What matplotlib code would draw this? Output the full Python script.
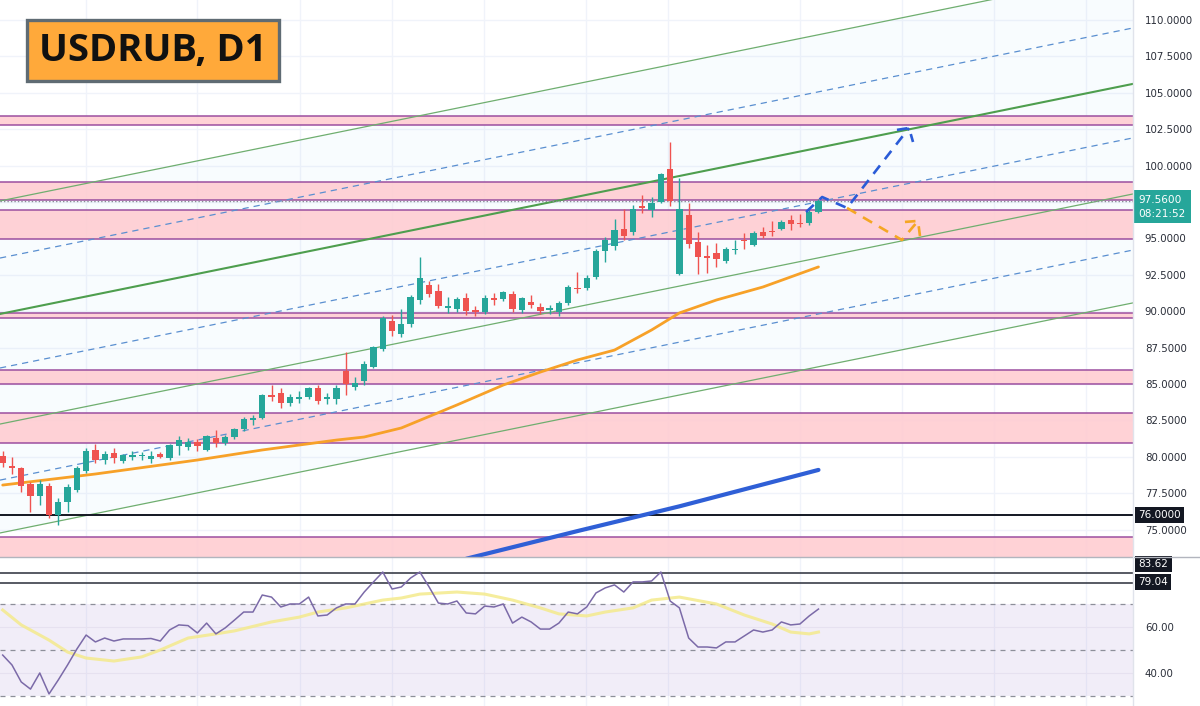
import matplotlib.pyplot as plt
from matplotlib.patches import Rectangle
from matplotlib.lines import Line2D

# daily candles
opens = [80.05, 79.4, 79.2, 78.1, 77.3, 78.0, 76.0, 76.9, 77.7, 79.0,
         80.5, 79.75, 80.25, 79.7, 80.0, 80.05, 79.85, 80.2, 79.9, 80.75,
         80.7, 81.0, 80.5, 81.3, 80.95, 81.35, 81.9, 82.5, 82.65, 84.25,
         84.4, 83.7, 84.0, 84.1, 84.7, 84.0, 84.0, 85.9, 84.8, 85.2,
         86.2, 87.4, 89.35, 88.45, 89.1, 90.8, 91.8, 91.4, 90.25, 90.15,
         90.9, 90.1, 89.95, 90.9, 90.85, 91.2, 90.1, 90.6, 90.3, 90.1,
         89.95, 90.55, 91.6, 91.6, 92.35, 94.1, 94.5, 95.65, 95.45, 97.2,
         96.95, 97.5, 99.75, 92.55, 96.6, 94.75, 93.8, 94.0, 93.45, 94.2,
         94.9, 94.55, 95.45, 95.5, 95.65, 96.25, 96.05, 96.05, 96.8]
highs = [80.4, 80.0, 79.3, 78.3, 78.4, 78.2, 77.2, 78.1, 79.4, 80.6,
         80.9, 80.4, 80.6, 80.2, 80.4, 80.3, 80.4, 80.3, 80.9, 81.4,
         81.3, 81.2, 81.5, 81.85, 81.5, 82.0, 82.75, 82.9, 84.3, 84.9,
         84.7, 84.3, 84.5, 84.8, 84.9, 84.4, 84.9, 87.2, 85.5, 86.6,
         87.6, 89.7, 89.75, 90.15, 91.1, 93.7, 92.1, 91.9, 91.0, 91.0,
         91.25, 90.35, 91.1, 91.25, 91.4, 91.4, 91.0, 91.1, 90.55, 90.4,
         90.7, 91.8, 92.7, 92.5, 94.3, 95.1, 96.3, 97.0, 97.3, 98.0,
         97.85, 99.5, 101.6, 99.15, 97.45, 95.45, 94.55, 94.7, 94.4, 94.9,
         95.35, 95.5, 95.8, 96.2, 96.25, 96.6, 96.7, 96.95, 97.7]
lows = [79.3, 78.8, 77.6, 76.2, 76.7, 75.8, 75.3, 76.2, 77.6, 78.9,
        79.6, 79.5, 79.6, 79.6, 79.8, 79.8, 79.6, 79.9, 79.8, 80.1,
        80.5, 80.4, 80.4, 80.7, 80.8, 81.2, 81.8, 82.2, 82.6, 83.8,
        83.35, 83.5, 83.7, 84.0, 83.6, 83.6, 83.6, 84.25, 84.6, 84.9,
        86.1, 87.3, 88.3, 88.2, 88.9, 90.5, 91.0, 90.25, 89.9, 89.95,
        89.75, 89.7, 89.8, 90.4, 90.7, 89.95, 89.9, 90.2, 89.8, 89.8,
        89.7, 90.4, 91.25, 91.45, 92.2, 93.4, 94.2, 94.9, 95.2, 96.75,
        96.45, 97.4, 97.2, 92.5, 94.35, 92.55, 92.6, 93.05, 93.3, 93.9,
        94.25, 94.5, 95.0, 95.15, 95.55, 95.6, 95.8, 95.95, 96.75]
closes = [79.55, 79.2, 78.0, 77.3, 78.1, 76.0, 76.9, 77.9, 79.2, 80.4,
          79.8, 80.2, 79.9, 80.1, 80.1, 80.1, 80.05, 80.0, 80.8, 81.15,
          81.0, 80.75, 81.4, 80.95, 81.35, 81.9, 82.6, 82.65, 84.25, 84.1,
          83.7, 84.1, 84.1, 84.7, 83.8, 84.1, 84.7, 85.0, 85.1, 86.4,
          87.55, 89.55, 88.65, 89.1, 91.0, 92.3, 91.2, 90.35, 90.35, 90.85,
          90.0, 89.95, 90.9, 90.8, 91.3, 90.15, 90.9, 90.4, 90.0, 90.2,
          90.55, 91.65, 91.5, 92.3, 94.1, 94.9, 95.6, 95.15, 97.0, 97.1,
          97.4, 99.4, 97.55, 97.0, 94.6, 93.7, 93.65, 93.6, 94.25, 94.3,
          94.8, 95.35, 95.15, 95.45, 96.1, 96.0, 96.0, 96.8, 97.56]

# 50-day moving average (orange) and slow average (blue)
ma_idx = [0, 10, 21, 28, 36, 39, 43, 49, 54, 58, 62, 66, 70, 73, 77, 82, 88]
ma_val = [78.06, 78.82, 79.78, 80.47, 81.15, 81.36, 81.98, 83.56, 84.93,
          85.82, 86.65, 87.33, 88.71, 89.88, 90.77, 91.66, 93.04]
slow_idx = [50, 62, 73, 88]
slow_val = [73.0, 74.9, 76.6, 79.1]

# RSI and its moving average
rsi = [47.8, 43.5, 36.1, 33.0, 40.0, 30.9, 37.0, 43.5, 50.4, 56.5,
       53.5, 55.2, 53.9, 54.8, 54.8, 54.8, 55.0, 53.9, 58.7, 60.9,
       60.6, 57.4, 61.7, 57.0, 59.6, 63.0, 66.5, 66.5, 73.9, 73.0,
       68.7, 70.0, 70.0, 73.0, 64.8, 65.2, 68.3, 70.0, 70.0, 75.2,
       79.6, 83.9, 76.5, 77.4, 81.3, 83.9, 77.4, 70.4, 70.0, 71.3,
       66.1, 65.7, 69.1, 68.7, 70.0, 61.7, 64.3, 62.2, 59.1, 59.1,
       61.7, 66.5, 65.7, 68.7, 74.8, 77.0, 78.3, 75.2, 79.6, 79.6,
       80.0, 83.9, 71.3, 68.3, 55.2, 51.3, 51.3, 50.9, 53.5, 53.5,
       56.1, 58.7, 57.8, 58.7, 62.2, 60.9, 61.3, 64.8, 67.8]
rsi_ma_idx = [0, 2, 5, 7, 9, 12, 15, 17, 20, 23, 25, 29, 32, 34, 37, 41, 43,
              45, 49, 52, 55, 58, 60, 63, 65, 68, 70, 73, 77, 80, 83, 85, 87, 88]
rsi_ma = [67.4, 60.9, 54.3, 49.1, 46.5, 45.2, 47.0, 50.0, 55.2, 57.0, 58.3,
          62.2, 64.3, 66.5, 68.3, 71.7, 72.6, 74.3, 75.2, 74.3, 71.7, 68.3,
          65.7, 64.8, 66.5, 68.3, 71.7, 73.0, 70.0, 65.2, 61.3, 57.8, 57.0, 57.8]

# horizontal zones and levels
zones = [(102.8, 103.4), (97.66, 98.9), (94.94, 96.95), (89.55, 89.9),
         (84.98, 85.96), (80.97, 82.99), (72.0, 74.5)]
support = 76.0
last_price = 97.56
rsi_marks = [83.62, 79.04]

# parallel channel: prices at left and right edges
chan_x = [-0.29, 121.93]
green_left = [97.57, 89.81, 82.25, 74.77]
green_right = [113.37, 105.61, 98.05, 90.57]
green_lw = [0.9, 1.5, 0.9, 0.9]
dash_left = [93.65, 86.1, 78.4]
dash_right = [109.45, 101.9, 94.2]

# forecast arrows
up_path = [(86.66, 96.81), (88.4, 97.84), (91.08, 97.09), (97.77, 102.58)]
up_head = [(96.47, 102.45), (97.77, 102.58), (98.2, 101.62)]
dn_path = [(91.08, 97.09), (97.0, 94.89), (98.74, 96.2)]
dn_head = [(97.33, 96.13), (98.74, 96.2), (98.95, 95.16)]

price_ticks = [110, 107.5, 105, 102.5, 100, 95, 92.5, 90, 87.5, 85, 82.5, 80, 77.5, 75]
grid_x = [9.0, 21.0, 32.1, 42.0, 51.9, 62.9, 71.8, 86.0, 97.0, 106.9, 116.9]

UP, DOWN = '#26a69a', '#ef5350'
XLIM = (-0.29, 121.93)

fig = plt.figure(figsize=(12, 7.06), dpi=100)
ax = fig.add_axes([0, 149 / 706, 1133 / 1200, 557 / 706])
rx = fig.add_axes([0, 0, 1133 / 1200, 149 / 706])

for a in (ax, rx):
    a.set_xlim(*XLIM)
    for s in a.spines.values():
        s.set_visible(False)
    a.set_xticks([])
    for g in grid_x:
        a.axvline(g, color='#f0f3fa', lw=1, zorder=0)

ax.set_ylim(73.12, 111.37)
for t in [75 + 2.5 * k for k in range(15)]:
    ax.axhline(t, color='#f0f3fa', lw=1, zorder=0)

# channel
ax.fill([chan_x[0], chan_x[1], chan_x[1], chan_x[0]],
        [green_left[0], green_right[0], green_right[-1], green_left[-1]],
        color='#2196f3', alpha=0.028, lw=0, zorder=0.5)
for l, r, w in zip(green_left, green_right, green_lw):
    ax.plot(chan_x, [l, r], color='#4e9e4e' if w > 1 else '#6fae6f', lw=w, zorder=2)
for l, r in zip(dash_left, dash_right):
    ax.plot(chan_x, [l, r], color='#5a8fd0', lw=0.9, ls=(0, (5, 4)), zorder=2)

# zones
for lo, hi in zones:
    ax.axhspan(lo, hi, color='#ffcdd2', alpha=0.9, lw=0, zorder=1)
    ax.axhline(lo, color='#9c4fa0', lw=1.1, zorder=1.5)
    ax.axhline(hi, color='#9c4fa0', lw=1.1, zorder=1.5)

ax.axhline(support, color='#131722', lw=1.4, zorder=2)
ax.axhline(last_price, color='#8a8d96', lw=1, ls=(0, (1, 1.5)), zorder=2)

# averages
ax.plot(ma_idx, ma_val, color='#f7a128', lw=2, zorder=3, solid_capstyle='round')
ax.plot(slow_idx, slow_val, color='#2f5fd6', lw=3, zorder=3, solid_capstyle='round')

# candles
idx = list(range(len(opens)))
colors = [UP if c >= o else DOWN for o, c in zip(opens, closes)]
ax.vlines(idx, lows, highs, colors=colors, lw=1, zorder=4)
bottoms = [min(o, c) for o, c in zip(opens, closes)]
heights = [max(abs(c - o), 0.06) for o, c in zip(opens, closes)]
ax.bar(idx, heights, bottom=bottoms, width=0.68, color=colors, lw=0, zorder=5)

# forecast arrows
dash = (0, (4, 3))
ax.plot(*zip(*up_path), color='#2a5bd7', lw=1.9, ls=dash, zorder=6)
ax.plot(*zip(*up_head), color='#2a5bd7', lw=1.9, ls=dash, zorder=6)
ax.plot(*zip(*dn_path), color='#f5a623', lw=1.9, ls=dash, zorder=6)
ax.plot(*zip(*dn_head), color='#f5a623', lw=1.9, ls=dash, zorder=6)

# price axis labels
ax.yaxis.tick_right()
ax.set_yticks(price_ticks)
ax.set_yticklabels([f'{t:.4f}' for t in price_ticks])
ax.tick_params(axis='y', length=0, pad=8.5, labelsize=7.4, labelcolor='#2a2e39')

box = dict(boxstyle='square,pad=0.3', ec='none')
ax.annotate('76.0000', xy=(1, support), xycoords=('axes fraction', 'data'),
            xytext=(4, 0), textcoords='offset points', ha='left', va='center',
            fontsize=7.5, color='white', bbox=dict(box, fc='#131722'),
            annotation_clip=False, zorder=10)
ax.annotate('97.5600\n08:21:52', xy=(1, last_price - 0.4), xycoords=('axes fraction', 'data'),
            xytext=(4, 0), textcoords='offset points', ha='left', va='center',
            fontsize=7.6, color='white', linespacing=1.45,
            bbox=dict(boxstyle='square,pad=0.45', fc='#26a69a', ec='none'),
            annotation_clip=False, zorder=10)

# RSI pane
rx.set_ylim(25.65, 90.43)
rx.axhspan(30, 70, color='#7e57c2', alpha=0.1, lw=0, zorder=0)
for g in (40, 60):
    rx.axhline(g, color='#e6e1f0', lw=0.8, zorder=0.5)
for lv in (70, 50, 30):
    rx.axhline(lv, color='#8d8f99', lw=0.9, ls=(0, (4, 4)), zorder=1)
for lv in rsi_marks:
    rx.axhline(lv, color='#2a2e39', lw=1.1, zorder=1)
rx.plot(rsi_ma_idx, rsi_ma, color='#f4ea8c', lw=2.2, alpha=0.85, zorder=2)
rx.plot(idx, rsi, color='#7b6aa8', lw=1.1, zorder=3)
rx.yaxis.tick_right()
rx.set_yticks([40, 60])
rx.set_yticklabels(['40.00', '60.00'])
rx.tick_params(axis='y', length=0, pad=8.5, labelsize=7.4, labelcolor='#2a2e39')
for lv, pos in zip(rsi_marks, (87.3, 79.6)):
    rx.annotate(f'{lv:.2f}', xy=(1, pos), xycoords=('axes fraction', 'data'),
                xytext=(4, 0), textcoords='offset points', ha='left', va='center',
                fontsize=7.5, color='white', bbox=dict(box, fc='#131722'),
                annotation_clip=False, zorder=10)

# separators
fig.add_artist(Line2D([0, 1], [149 / 706, 149 / 706], color='#b2b5be', lw=1))
fig.add_artist(Line2D([1133 / 1200, 1133 / 1200], [0, 1], color='#e0e3eb', lw=1))

# title badge
fig.add_artist(Rectangle((27 / 1200, 1 - 81 / 706), 252 / 1200, 61 / 706,
                         transform=fig.transFigure, fc='#ffa93a', ec='#5f6b73', lw=2.4, zorder=20))
fig.text(153 / 1200, 1 - 51 / 706, 'USDRUB, D1', ha='center', va='center',
         fontsize=27.5, fontweight='bold', family='Open Sans', color='#111111', zorder=21)

fig.savefig('out.png', dpi=100)
